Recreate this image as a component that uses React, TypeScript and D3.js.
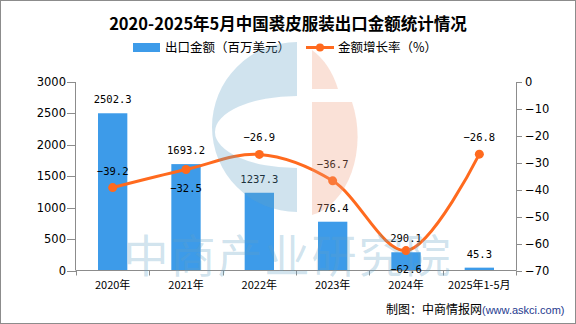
import React from 'react';
import * as d3 from 'd3';

const categories = ['2020年', '2021年', '2022年', '2023年', '2024年', '2025年1-5月'];
const exportValues = [2502.3, 1693.2, 1237.3, 776.4, 290.1, 45.3];
const growthRates = [-39.2, -32.5, -26.9, -36.7, -62.6, -26.8];
const leftTicks = [0, 500, 1000, 1500, 2000, 2500, 3000];
const rightTicks = [0, -10, -20, -30, -40, -50, -60, -70];
const growthBelow = [false, true, false, false, true, false];

const W = 576;
const H = 324;
const BLUE = '#3d9be9';
const ORANGE = '#ff6a1e';
const AXIS = '#8c8c8c';
const CJK = '"Noto Sans CJK SC", "Noto Sans", sans-serif';
const MONO = '"DejaVu Sans Mono", monospace';
const SANS = '"DejaVu Sans", sans-serif';

export default function App() {
  const left = 76;
  const right = 516;
  const top = 82;
  const bottom = 270.5;

  const x = d3.scaleBand<string>().domain(categories).range([left, right]).paddingInner(0.6).paddingOuter(0.3);
  const step = (right - left) / categories.length;
  const yL = d3.scaleLinear().domain([0, 3000]).range([bottom, top]);
  const yR = d3.scaleLinear().domain([-70, 0]).range([bottom, top]);
  const fmt = d3.format('.1f');
  const cx = (c: string) => (x(c) as number) + x.bandwidth() / 2;

  const pts: [number, number][] = categories.map((c, i) => [cx(c), yR(growthRates[i])]);
  const line = d3.line().curve(d3.curveCatmullRom.alpha(0.5))(pts) || '';

  const boundaries = d3.range(categories.length + 1).map((i) => left + i * step);

  // watermark shapes
  const blueArc = `M297,42 A85,85 0 0 0 297,212 L297,168 A82,36 0 1 1 297,96 Z`;
  const orangeTop = `M312,50 A57,80 0 0 1 338,89 L312,89 Z`;
  const orangeBottom = `M312,102 L352,102 A57,80 0 0 1 312,215 Z`;

  return (
    <svg width={W} height={H} style={{ position: 'absolute', left: 0, top: 0, background: '#fff' }}>
      <rect x={0.5} y={0.5} width={W - 1} height={H - 1} fill="#fff" stroke={AXIS} />
      <text x={288} y={30} textAnchor="middle" fontFamily={CJK} fontWeight="bold" fontSize={16.5} fill="#000">
        2020-2025年5月中国裘皮服装出口金额统计情况
      </text>
      {/* legend */}
      <rect x={133} y={43} width={27} height={9} fill={BLUE} />
      <text x={165} y={52} fontFamily={CJK} fontSize={12.5} fill="#000">出口金额（百万美元）</text>
      <line x1={306} x2={334} y1={47.5} y2={47.5} stroke={ORANGE} strokeWidth={3} />
      <circle cx={320} cy={47.5} r={4} fill={ORANGE} />
      <text x={338} y={52} fontFamily={CJK} fontSize={12.5} fill="#000">金额增长率（%）</text>

      {/* bars */}
      {categories.map((c, i) => (
        <rect key={c} x={x(c)} y={yL(exportValues[i])} width={x.bandwidth()} height={bottom - yL(exportValues[i])} fill={BLUE} />
      ))}

      {/* axes */}
      <line x1={left - 0.5} x2={left - 0.5} y1={top} y2={bottom} stroke={AXIS} />
      {leftTicks.map((t) => (
        <g key={'l' + t}>
          <line x1={left - 9} x2={left} y1={Math.round(yL(t)) + 0.5} y2={Math.round(yL(t)) + 0.5} stroke={AXIS} />
          <text x={left - 10} y={yL(t) + 4} textAnchor="end" fontFamily={SANS} fontSize={11.5} fill="#000">{t}</text>
        </g>
      ))}
      <line x1={right + 0.5} x2={right + 0.5} y1={top} y2={bottom} stroke={AXIS} />
      {rightTicks.map((t) => (
        <g key={'r' + t}>
          <line x1={right} x2={right + 6} y1={Math.round(yR(t)) + 0.5} y2={Math.round(yR(t)) + 0.5} stroke={AXIS} />
          <text x={525} y={yR(t) + 4} textAnchor="start" fontFamily={SANS} fontSize={11.5} fill="#000">{d3.format('d')(t)}</text>
        </g>
      ))}
      <line x1={left} x2={right} y1={bottom} y2={bottom} stroke={AXIS} />
      {boundaries.map((b, i) => (
        <line key={'b' + i} x1={Math.round(b) + 0.5} x2={Math.round(b) + 0.5} y1={bottom} y2={bottom + 5} stroke={AXIS} />
      ))}
      {categories.map((c) => (
        <text key={'c' + c} x={cx(c)} y={289} textAnchor="middle" fontFamily={CJK} fontSize={11} fill="#000">{c}</text>
      ))}

      {/* bar labels */}
      {categories.map((c, i) => (
        <text key={'v' + c} x={cx(c)} y={yL(exportValues[i]) - 10} textAnchor="middle" fontFamily={MONO} fontSize={10.5} fill="#000">
          {fmt(exportValues[i])}
        </text>
      ))}

      {/* line */}
      <path d={line} fill="none" stroke={ORANGE} strokeWidth={3} />
      {pts.map((p, i) => (
        <circle key={'p' + i} cx={p[0]} cy={p[1]} r={4.5} fill={ORANGE} />
      ))}
      {pts.map((p, i) => (
        <text key={'g' + i} x={p[0]} y={growthBelow[i] ? p[1] + 22 : p[1] - 13} textAnchor="middle" fontFamily={MONO} fontSize={10.5} fill="#000">
          {fmt(growthRates[i])}
        </text>
      ))}

      {/* watermark */}
      <path d={blueArc} fill="rgba(98,162,198,0.3)" fillRule="evenodd" />
      <path d={orangeTop} fill="rgba(238,155,122,0.3)" />
      <path d={orangeBottom} fill="rgba(238,155,122,0.3)" />
      <text x={288} y={273} textAnchor="middle" fontFamily={CJK} fontSize={45} letterSpacing={2} fill="rgba(98,162,198,0.3)">
        中商产业研究院
      </text>

      {/* footer */}
      <text x={482} y={314} textAnchor="end" fontFamily={CJK} fontSize={12} fill="#000">制图：中商情报网</text>
      <text x={482} y={314} textAnchor="start" fontFamily='"Liberation Sans", Arial, sans-serif' fontSize={11} fill="#1f3a8f">(www.askci.com)</text>
    </svg>
  );
}
